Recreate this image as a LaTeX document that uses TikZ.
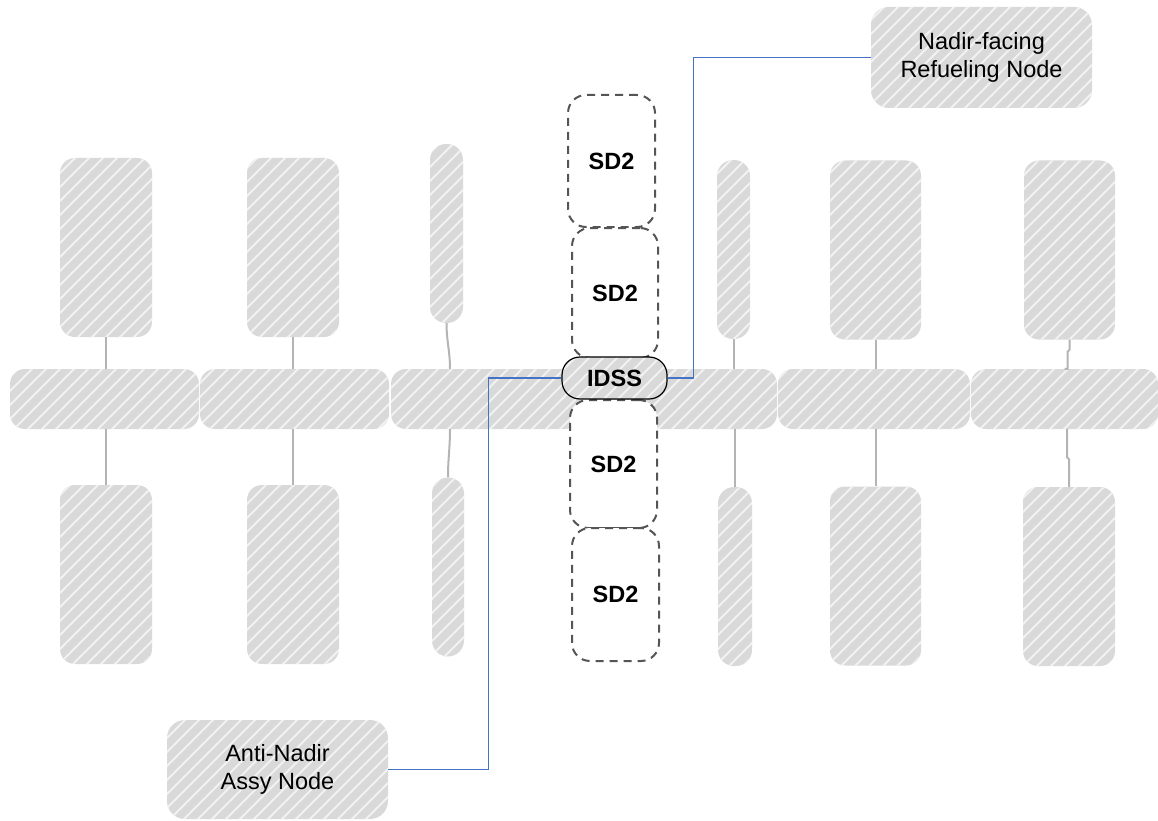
\documentclass[tikz,border=0pt]{standalone}
\usepackage{fontspec}
\setmainfont{Liberation Sans}
\usetikzlibrary{patterns}
\pgfdeclarepatternformonly{wide lines}{\pgfqpoint{-1pt}{-1pt}}{\pgfqpoint{15pt}{15pt}}{\pgfqpoint{14pt}{14pt}}{
  \pgfsetlinewidth{2pt}
  \pgfpathmoveto{\pgfqpoint{-0.1pt}{-0.1pt}}
  \pgfpathlineto{\pgfqpoint{14.1pt}{14.1pt}}
  \pgfusepath{stroke}
}
\definecolor{boxgray}{RGB}{217,217,217}
\definecolor{stripe}{RGB}{242,242,242}
\definecolor{linkblue}{RGB}{68,114,196}
\definecolor{stemgray}{RGB}{180,180,180}
\definecolor{dashgray}{RGB}{85,85,85}
\tikzstyle{hatch} = [rectangle, rounded corners=15pt, preaction={fill=boxgray}, pattern=wide lines, pattern color=stripe, inner sep=0pt]
\tikzstyle{slim} = [hatch, rounded corners=16pt, minimum width=33pt, minimum height=179pt]
\tikzstyle{arm} = [hatch, minimum width=92pt, minimum height=179pt]
\tikzstyle{truss} = [hatch, minimum width=189pt, minimum height=60pt]
\tikzstyle{sd} = [rectangle, rounded corners=18pt, draw=dashgray, line width=2pt, dash pattern=on 8pt off 6pt, fill=white, minimum width=87pt, minimum height=130pt, font=\bfseries]
\tikzstyle{port} = [hatch, rounded corners=18pt, draw=black, line width=1.2pt, minimum width=105pt, minimum height=42pt, font=\bfseries]
\tikzstyle{namebox} = [hatch, rounded corners=18pt, minimum width=221pt, minimum height=100pt, align=center]
\tikzstyle{stem} = [draw=stemgray, line width=2pt]
\tikzstyle{bluelink} = [draw=linkblue, line width=1.5pt]

\begin{document}
\fontsize{23.5}{27.5}\selectfont
\begin{tikzpicture}[x=1pt, y=-1pt]
        \useasboundingbox (0,0) rectangle (1158,821);
        \node (b1) [truss] at (104.5,399) {};
        \node (b2) [truss] at (294.5,399) {};
        \node (b3) [truss] at (485.5,399) {};
        \node (b4) [truss] at (682.5,399) {};
        \node (b5) [truss, minimum width=192pt] at (874,399) {};
        \node (b6) [truss, minimum width=187pt] at (1064.5,399) {};

        \node (u1) [arm] at (106,247.5) {};
        \node (u2) [arm] at (293,247.5) {};
        \node (u3) [slim] at (446.5,233.5) {};
        \node (u4) [slim] at (733.5,249.5) {};
        \node (u5) [arm, minimum width=91pt] at (875.5,250) {};
        \node (u6) [arm, minimum width=91pt] at (1069.5,250) {};
        \node (l1) [arm] at (106,574.5) {};
        \node (l2) [arm] at (293,574.5) {};
        \node (l3) [slim, minimum width=32pt] at (448,567) {};
        \node (l4) [slim, minimum width=34pt] at (735,576.5) {};
        \node (l5) [arm, minimum width=91pt] at (875.5,576) {};
        \node (l6) [arm] at (1069,576.5) {};

        \draw [stem] (u1.south) -- (u1.south |- b1.north);
        \draw [stem] (u2.south) -- (u2.south |- b2.north);
        \draw [stem] (u3.south) to[out=-90,in=90] ([xshift=3.5pt]u3.south |- b3.north);
        \draw [stem] (u4.south) -- (u4.south |- b4.north);
        \draw [stem] (u5.south) -- (u5.south |- b5.north);
        \draw [stem] (u6.south) -- ++(0,10) -- ++(-2,2) |- (b6.north);
        \draw [stem] (l1.north |- b1.south) -- (l1.north);
        \draw [stem] (l2.north |- b2.south) -- (l2.north);
        \draw [stem] ([xshift=2pt]l3.north |- b3.south) to[out=-90,in=90] (l3.north);
        \draw [stem] (l4.north |- b4.south) -- (l4.north);
        \draw [stem] (l5.north |- b5.south) -- (l5.north);
        \draw [stem] ([xshift=-2pt]l6.north |- b6.south) -- ++(0,28) -- ++(2,2) -- (l6.north);

        \node (s1) [sd, minimum height=132pt] at (611.5,161) {SD2};
        \node (s2) [sd, minimum width=86pt] at (615,293) {SD2};
        \node (s3) [sd, minimum height=128pt] at (613.5,464) {SD2};
        \node (s4) [sd, minimum height=133pt] at (615.5,594.5) {SD2};
        \node (idss) [port] at (614.5,378) {IDSS};

        \node (nadir) [namebox, minimum height=101pt] at (981.5,57.5) {Nadir-facing\\Refueling Node};
        \node (anti) [namebox, minimum height=99pt] at (277.5,769.5) {Anti-Nadir\\Assy Node};

        \draw [bluelink] (idss.west) -- ++(-73,0) |- (anti.east);
        \draw [bluelink] (idss.east) -- ++(26,0) |- (nadir.west);
\end{tikzpicture}
\end{document}
